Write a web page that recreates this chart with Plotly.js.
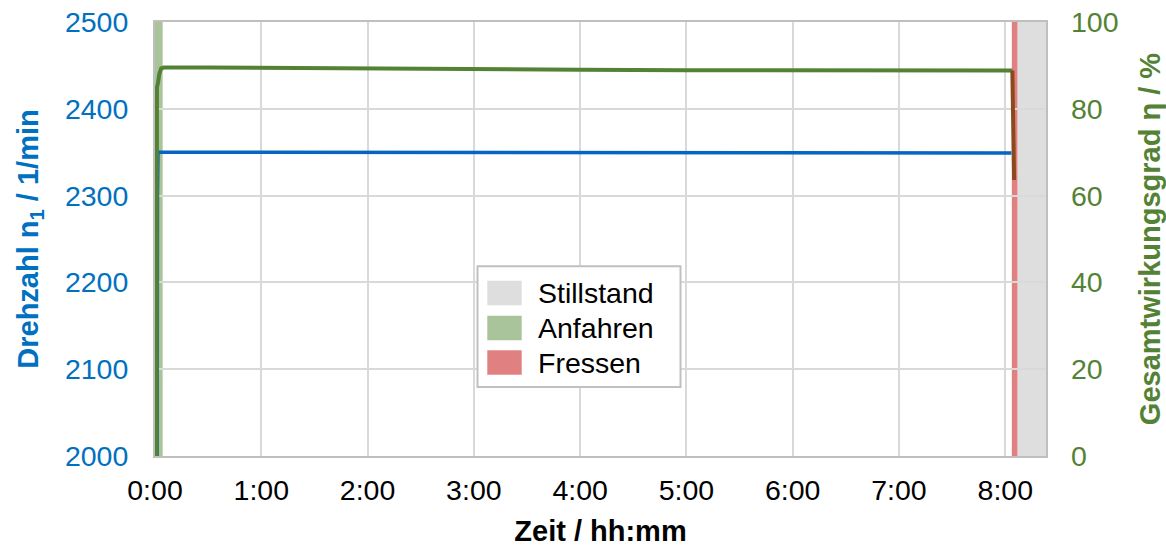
<!DOCTYPE html>
<html>
<head>
<meta charset="utf-8">
<script src="https://cdn.plot.ly/plotly-3.0.1.min.js"></script>
<style>html,body{margin:0;padding:0;background:#fff;}#chart{width:1166px;height:547px;}</style>
</head>
<body>
<div id="chart"></div>
<script>
// ---- data (time in minutes) ----
const tickMinutes = [0, 60, 120, 180, 240, 300, 360, 420, 480];
const tickLabels = ['0:00', '1:00', '2:00', '3:00', '4:00', '5:00', '6:00', '7:00', '8:00'];

const speedTime = [0, 1.2, 1.4, 1.7, 60, 120, 180, 240, 300, 360, 420, 483.5];
const speedValues = [2000, 2000, 2300, 2350, 2350, 2350, 2350, 2350, 2350, 2350, 2350, 2349];

const etaTime = [0.9, 0.96, 1.1, 1.7, 2.4, 3.5, 5, 30, 60, 120, 180, 240, 300, 360, 420, 484.0];
const etaValues = [0, 83, 85, 86, 88, 89.3, 89.5, 89.5, 89.4, 89.2, 89.1, 89.0, 88.9, 88.9, 88.8, 88.8];

const seizureTime = [484.0, 484.3, 484.6, 485.0];
const seizureEta = [88.8, 80, 70, 63.6];

const bandNames = ['Stillstand', 'Anfahren', 'Fressen'];
const bandStart = [486.9, 0, 483.7];
const bandEnd = [503, 4.3, 486.9];
const bandColors = ['#dedede', '#a9c39a', '#e08080'];

const xRange = [0, 503];
const speedRange = [2000, 2500];
const etaRange = [0, 100];

// ---- traces ----
const traces = [
  {x: speedTime, y: speedValues, type: 'scatter', mode: 'lines', yaxis: 'y',
   line: {color: '#0565c0', width: 3.5}, showlegend: false, hoverinfo: 'skip'},
  {x: etaTime, y: etaValues, type: 'scatter', mode: 'lines', yaxis: 'y2',
   line: {color: '#548235', width: 4}, showlegend: false, hoverinfo: 'skip'},
  {x: seizureTime, y: seizureEta, type: 'scatter', mode: 'lines', yaxis: 'y2',
   line: {color: '#8a4a1c', width: 4}, showlegend: false, hoverinfo: 'skip'}
];

// ---- bands (shapes on data scale) ----
const shapes = [];
for (let i = 0; i < bandNames.length; i++) {
  shapes.push({type: 'rect', xref: 'x', yref: 'paper', x0: bandStart[i], x1: bandEnd[i], y0: 0, y1: 1,
    fillcolor: bandColors[i], line: {width: 0}, layer: 'below'});
}

// ---- custom legend (paper coords) ----
const L = 155, W = 891, B = 456.5, H = 434.5;
const px = v => (v - L) / W;
const py = v => (B - v) / H;
shapes.push({type: 'rect', xref: 'paper', yref: 'paper', x0: px(477.5), x1: px(680.5), y0: py(387.5), y1: py(266.5),
  fillcolor: '#ffffff', line: {color: '#c0c0c0', width: 2}, layer: 'above'});
const annotations = [];
const rowTop = [281, 316, 350.7];
for (let i = 0; i < bandNames.length; i++) {
  shapes.push({type: 'rect', xref: 'paper', yref: 'paper', x0: px(487.3), x1: px(521.7),
    y0: py(rowTop[i] + 24.5), y1: py(rowTop[i]), fillcolor: bandColors[i], line: {width: 0}, layer: 'above'});
  annotations.push({xref: 'paper', yref: 'paper', x: px(536), y: py(rowTop[i] + 12.5), xanchor: 'left', yanchor: 'middle',
    text: bandNames[i], showarrow: false, font: {family: 'Liberation Sans, Arial, sans-serif', size: 28.5, color: '#000'}});
}

const layout = {
  width: 1166, height: 547,
  margin: {l: 155, r: 120, t: 22, b: 90.5},
  paper_bgcolor: '#ffffff', plot_bgcolor: '#ffffff',
  font: {family: 'Liberation Sans, Arial, sans-serif', size: 28.5, color: '#000'},
  showlegend: false,
  xaxis: {
    range: xRange, tickvals: tickMinutes, ticktext: tickLabels,
    showgrid: true, gridcolor: '#d9d9d9', gridwidth: 2,
    showline: true, linecolor: '#bfbfbf', linewidth: 2, mirror: true,
    zeroline: false, ticks: '', ticklabelstandoff: 8,
    tickfont: {size: 28.5, color: '#000'},
    title: {text: '<b>Zeit / hh:mm</b>', font: {size: 29, color: '#000'}, standoff: 16}
  },
  yaxis: {
    range: speedRange, tickvals: [2000, 2100, 2200, 2300, 2400, 2500],
    showgrid: true, gridcolor: '#d9d9d9', gridwidth: 2,
    showline: true, linecolor: '#bfbfbf', linewidth: 2, mirror: true,
    zeroline: false, ticks: '', ticklabelstandoff: 19,
    tickfont: {size: 28.5, color: '#0070c0'},
    title: {text: '<b>Drehzahl n<sub>1</sub> / 1/min</b>', font: {size: 29, color: '#0070c0'}, standoff: 18}
  },
  yaxis2: {
    range: etaRange, tickvals: [0, 20, 40, 60, 80, 100], overlaying: 'y', side: 'right',
    showgrid: false, showline: false, zeroline: false, ticks: '', ticklabelstandoff: 24,
    tickfont: {size: 28.5, color: '#548235'},
    title: {text: '<b>Gesamtwirkungsgrad η / %</b>', font: {size: 29, color: '#548235'}, standoff: 22}
  },
  shapes: shapes,
  annotations: annotations
};

Plotly.newPlot('chart', traces, layout, {displayModeBar: false, staticPlot: true});
</script>
</body>
</html>
